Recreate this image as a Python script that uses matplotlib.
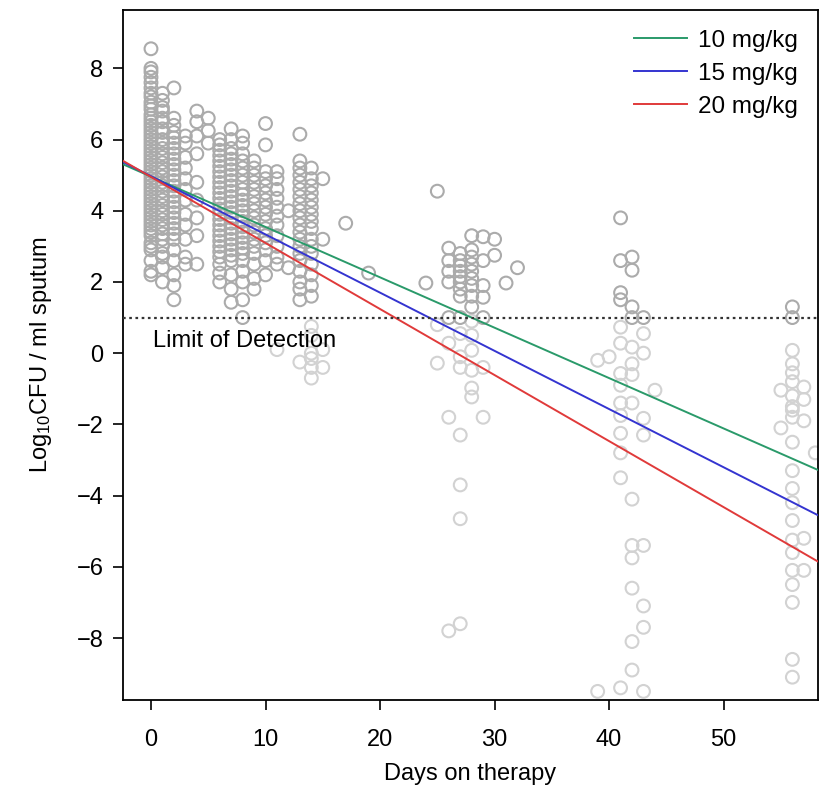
import matplotlib.pyplot as plt

plt.rcParams['font.family'] = ['Liberation Sans', 'DejaVu Sans']
plt.rcParams['mathtext.default'] = 'regular'

# log10 CFU/ml sputum read per sampling day
cfu_d0 = [8.55, 8.0, 7.9, 7.75, 7.6, 7.45, 7.3, 7.2, 7.05, 6.95, 6.85, 6.7, 6.6, 6.5, 6.4, 6.3,
          6.2, 6.1, 6.0, 5.9, 5.8, 5.7, 5.6, 5.5, 5.4, 5.3, 5.2, 5.1, 5.0, 4.9, 4.8, 4.7, 4.6,
          4.5, 4.4, 4.3, 4.2, 4.1, 4.0, 3.9, 3.8, 3.7, 3.6, 3.5, 3.4, 3.3, 3.1, 3.0, 2.9, 2.6,
          2.3, 2.2]
cfu_d1 = [7.3, 7.1, 6.9, 6.8, 6.6, 6.5, 6.3, 6.2, 6.0, 5.9, 5.75, 5.6, 5.5, 5.35, 5.2, 5.1,
          4.95, 4.8, 4.7, 4.55, 4.4, 4.3, 4.15, 4.0, 3.9, 3.75, 3.6, 3.5, 3.35, 3.2, 3.0, 2.8,
          2.7, 2.4, 2.0]
cfu_d2 = [7.45, 6.6, 6.4, 6.2, 6.05, 5.9, 5.75, 5.6, 5.45, 5.3, 5.15, 5.0, 4.85, 4.7, 4.55,
          4.4, 4.25, 4.1, 3.95, 3.8, 3.65, 3.5, 3.35, 3.2, 2.9, 2.6, 2.2, 1.9, 1.5]
cfu_d3 = [6.1, 5.9, 5.5, 5.2, 4.9, 4.6, 4.3, 3.9, 3.6, 3.2, 2.7, 2.5]
cfu_d4 = [6.8, 6.5, 6.1, 5.6, 4.8, 4.3, 3.8, 3.3, 2.5]
cfu_d5 = [6.6, 6.25, 5.9]
cfu_d6 = [6.0, 5.85, 5.7, 5.55, 5.4, 5.25, 5.1, 4.95, 4.8, 4.65, 4.5, 4.35, 4.2, 4.05, 3.9,
          3.75, 3.6, 3.45, 3.3, 3.15, 3.0, 2.85, 2.7, 2.5, 2.25, 2.0]
cfu_d7 = [6.3, 6.0, 5.75, 5.6, 5.45, 5.3, 5.15, 5.0, 4.85, 4.7, 4.55, 4.4, 4.25, 4.1, 3.95,
          3.8, 3.65, 3.5, 3.35, 3.2, 3.05, 2.9, 2.75, 2.6, 2.2, 1.8, 1.43]
cfu_d8 = [6.1, 5.9, 5.6, 5.4, 5.2, 5.0, 4.8, 4.6, 4.45, 4.3, 4.15, 4.0, 3.85, 3.7, 3.55, 3.4,
          3.25, 3.1, 2.95, 2.8, 2.6, 2.3, 2.0, 1.5, 1.0]
cfu_d9 = [5.4, 5.2, 5.0, 4.8, 4.6, 4.4, 4.2, 4.0, 3.8, 3.6, 3.4, 3.2, 3.0, 2.8, 2.5, 2.1, 1.8]
cfu_d10 = [6.45, 5.85, 5.1, 4.9, 4.7, 4.5, 4.3, 4.1, 3.9, 3.7, 3.5, 3.3, 3.1, 2.9, 2.6, 2.2]
cfu_d11 = [5.1, 4.9, 4.6, 4.35, 4.1, 3.85, 3.6, 3.3, 3.0, 2.7, 2.5, 0.1]
cfu_d12 = [4.0, 2.4]
cfu_d13 = [6.15, 5.4, 5.2, 5.0, 4.8, 4.6, 4.4, 4.2, 4.0, 3.8, 3.6, 3.4, 3.2, 3.0, 2.8, 2.6,
           2.3, 2.0, 1.8, 1.5, -0.25]
cfu_d14 = [5.2, 4.9, 4.7, 4.5, 4.3, 4.1, 3.9, 3.7, 3.5, 3.2, 3.0, 2.8, 2.5, 2.2, 1.9, 1.6,
           0.75, 0.5, 0.0, -0.15, -0.4, -0.7]
cfu_d15 = [4.9, 3.2, 0.1, -0.4]
cfu_d17 = [3.65]
cfu_d19 = [2.25]
cfu_d24 = [1.97]
cfu_d25 = [4.55, 0.8, -0.28]
cfu_d26 = [2.95, 2.6, 2.3, 2.0, 1.0, 0.28, -1.8, -7.8]
cfu_d27 = [2.8, 2.6, 2.45, 2.3, 2.15, 2.0, 1.8, 1.6, 1.0, 0.55, -0.1, -0.4, -2.3, -3.7,
           -4.65, -7.6]
cfu_d28 = [3.3, 2.9, 2.7, 2.5, 2.3, 2.1, 1.9, 1.6, 1.3, 0.9, 0.5, 0.08, -0.48, -0.98, -1.23]
cfu_d29 = [3.27, 2.6, 1.9, 1.57, 1.0, -0.4, -1.8]
cfu_d30 = [3.2, 2.75]
cfu_d31 = [1.97]
cfu_d32 = [2.4]
cfu_d39 = [-0.2, -9.5]
cfu_d40 = [-0.1]
cfu_d41 = [3.8, 2.6, 1.7, 1.5, 0.73, 0.28, -0.57, -0.9, -1.4, -1.75, -2.25, -2.8, -3.5, -9.4]
cfu_d42 = [2.7, 2.33, 1.3, 1.0, 0.17, -0.3, -0.6, -1.4, -4.1, -5.4, -5.75, -6.6, -8.1, -8.9]
cfu_d43 = [1.0, 0.55, 0.0, -1.83, -2.3, -5.4, -7.1, -7.7, -9.5]
cfu_d44 = [-1.04]
cfu_d55 = [-1.04, -2.1]
cfu_d56 = [1.3, 1.0, 0.08, -0.3, -0.55, -0.8, -1.2, -1.5, -1.6, -1.8, -2.5, -3.3, -3.8, -4.2,
           -4.7, -5.25, -5.6, -6.1, -6.5, -7.0, -8.6, -9.1]
cfu_d57 = [-0.95, -1.3, -1.9, -5.2, -6.1]
cfu_d58 = [-2.8]

visit_days = [0, 1, 2, 3, 4, 5, 6, 7, 8, 9, 10, 11, 12, 13, 14, 15, 17, 19,
              24, 25, 26, 27, 28, 29, 30, 31, 32, 39, 40, 41, 42, 43, 44, 55, 56, 57, 58]
visit_cfu = [cfu_d0, cfu_d1, cfu_d2, cfu_d3, cfu_d4, cfu_d5, cfu_d6, cfu_d7, cfu_d8, cfu_d9,
             cfu_d10, cfu_d11, cfu_d12, cfu_d13, cfu_d14, cfu_d15, cfu_d17, cfu_d19,
             cfu_d24, cfu_d25, cfu_d26, cfu_d27, cfu_d28, cfu_d29, cfu_d30, cfu_d31, cfu_d32,
             cfu_d39, cfu_d40, cfu_d41, cfu_d42, cfu_d43, cfu_d44, cfu_d55, cfu_d56, cfu_d57,
             cfu_d58]

# fitted decline per dose
doses = ['10 mg/kg', '15 mg/kg', '20 mg/kg']
intercepts = [4.96, 4.97, 4.95]
slopes = [-0.1415, -0.1635, -0.1855]
colors = ['#2a9a6a', '#3434d0', '#e03a3a']
lod = 1.0

days, cfu = [], []
for d, vals in zip(visit_days, visit_cfu):
    days += [d] * len(vals)
    cfu += vals
above = [(d, v) for d, v in zip(days, cfu) if v >= lod]
below = [(d, v) for d, v in zip(days, cfu) if v < lod]

fig = plt.figure(figsize=(8.25, 7.94), dpi=100)
ax = fig.add_axes([0.149, 0.118, 0.842, 0.869])

ax.scatter([p[0] for p in below], [p[1] for p in below], s=85, facecolors='none',
           edgecolors='#d2d2d2', linewidths=1.5, zorder=2)
ax.scatter([p[0] for p in above], [p[1] for p in above], s=85, facecolors='none',
           edgecolors='#ababab', linewidths=1.5, zorder=2)

xlim = (-2.45, 58.2)
for name, b, m, c in zip(doses, intercepts, slopes, colors):
    ax.plot(xlim, [b + m * xlim[0], b + m * xlim[1]], color=c, lw=1.4, label=name, zorder=3)

ax.axhline(lod, color='#333333', ls=(0, (1.2, 1.6)), lw=1.6, zorder=3)
ax.text(0.2, 0.66, 'Limit of Detection', fontsize=17, va='top', ha='left')

ax.set_xlim(*xlim)
ax.set_ylim(-9.75, 9.63)
ax.set_xticks([0, 10, 20, 30, 40, 50])
ax.set_yticks([-8, -6, -4, -2, 0, 2, 4, 6, 8])
ax.tick_params(labelsize=17, length=7, width=1.2)
ax.tick_params(axis='x', pad=14)
ax.tick_params(axis='y', pad=7)
for s in ax.spines.values():
    s.set_linewidth(1.3)

ax.set_xlabel('Days on therapy', fontsize=17, labelpad=8)
ax.set_ylabel('Log$_{10}$CFU / ml sputum', fontsize=17, labelpad=16)

ax.legend(loc='upper right', frameon=False, fontsize=17.5, handlelength=2.2,
          handletextpad=0.45, labelspacing=0.45, borderaxespad=0.4)

fig.savefig('out.png', dpi=100)
